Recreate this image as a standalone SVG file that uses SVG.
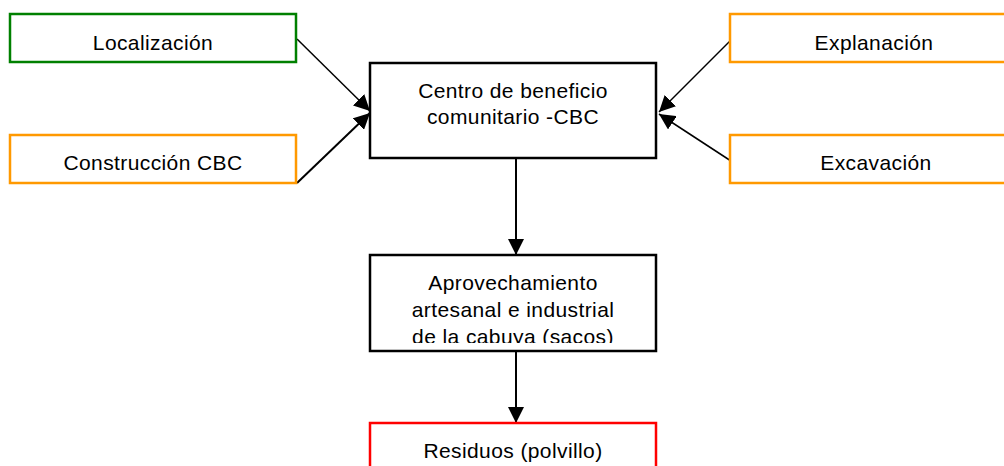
<svg xmlns="http://www.w3.org/2000/svg" width="1004" height="466" viewBox="0 0 1004 466">
<style>
.box{fill:#fff;stroke-width:2.5}
.t{font-family:"Liberation Sans",Arial,sans-serif;font-size:21px;letter-spacing:0.4px;fill:#000;text-anchor:middle}
.c{stroke:#000;fill:none}
</style>
<defs>
<marker id="ah" viewBox="0 0 10 10" refX="10" refY="5" markerWidth="16" markerHeight="16" markerUnits="userSpaceOnUse" orient="auto">
<path d="M0,0 L10,5 L0,10 z" fill="#000"/>
</marker>
<clipPath id="clipA"><rect x="370" y="255" width="286" height="88"/></clipPath>
</defs>
<rect width="1004" height="466" fill="#fff"/>
<g id="connectors">
<line class="c" x1="297" y1="39" x2="370" y2="111" stroke-width="1.5" marker-end="url(#ah)"/>
<line class="c" x1="297" y1="183" x2="370" y2="113" stroke-width="2" marker-end="url(#ah)"/>
<line class="c" x1="731" y1="40" x2="659" y2="112" stroke-width="1.5" marker-end="url(#ah)"/>
<line class="c" x1="731" y1="161" x2="659" y2="114" stroke-width="1.5" marker-end="url(#ah)"/>
<line class="c" x1="516" y1="158" x2="516" y2="255" stroke-width="2" marker-end="url(#ah)"/>
<line class="c" x1="516" y1="351" x2="516" y2="423" stroke-width="2" marker-end="url(#ah)"/>
</g>
<g id="localizacion">
<rect class="box" x="10" y="14" width="286" height="48" stroke="#008000"/>
<text class="t" x="153" y="50">Localización</text>
</g>
<g id="construccion">
<rect class="box" x="10" y="135" width="286" height="48" stroke="#ff9900"/>
<text class="t" x="153" y="170">Construcción CBC</text>
</g>
<g id="explanacion">
<rect class="box" x="730" y="14" width="286" height="48" stroke="#ff9900"/>
<text class="t" x="874" y="50">Explanación</text>
</g>
<g id="excavacion">
<rect class="box" x="730" y="135" width="286" height="48" stroke="#ff9900"/>
<text class="t" x="876" y="170">Excavación</text>
</g>
<g id="cbc">
<rect class="box" x="370" y="63" width="286" height="95" stroke="#000"/>
<text class="t" x="513" y="98">Centro de beneficio</text>
<text class="t" x="513" y="124">comunitario -CBC</text>
</g>
<g id="aprovechamiento">
<rect class="box" x="370" y="255" width="286" height="96" stroke="#000"/>
<g clip-path="url(#clipA)">
<text class="t" x="513" y="290">Aprovechamiento</text>
<text class="t" x="513" y="317">artesanal e industrial</text>
<text class="t" x="513" y="344">de la cabuya (sacos)</text>
</g>
</g>
<g id="residuos">
<rect class="box" x="370" y="423" width="286" height="60" stroke="#ff0000"/>
<text class="t" x="513" y="458">Residuos (polvillo)</text>
</g>
</svg>
